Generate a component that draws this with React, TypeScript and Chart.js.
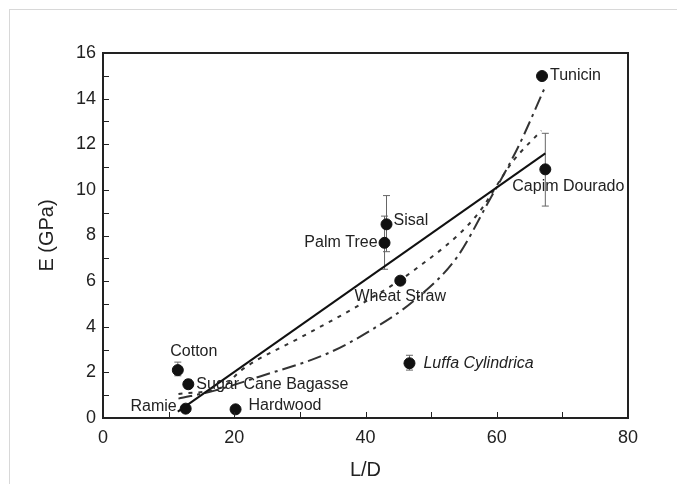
import React, { useEffect, useRef } from "react";
import { Chart, registerables } from "chart.js";

Chart.register(...registerables);

const materials = ["Cotton", "Sugar Cane Bagasse", "Ramie", "Hardwood", "Palm Tree", "Sisal", "Wheat Straw", "Luffa Cylindrica", "Tunicin", "Capim Dourado"];
const ldValues = [11.4, 13.0, 12.6, 20.2, 42.9, 43.2, 45.3, 46.7, 66.9, 67.4];
const eValues = [2.1, 1.48, 0.41, 0.38, 7.68, 8.49, 6.02, 2.4, 14.99, 10.9];
const errLow = [1.85, 1.3, null, null, 6.52, 7.29, null, 2.1, null, 9.29];
const errHigh = [2.45, 1.68, null, null, 8.85, 9.75, null, 2.75, null, 12.48];

const linearX = [11.4, 67.4];
const linearY = [0.28, 11.6];

const dottedX = [11.5, 18.3, 21.1, 30.3, 39.6, 47.5, 56.7, 62.6, 66.8];
const dottedY = [1.05, 1.37, 2.1, 3.56, 5.04, 6.5, 8.8, 11.3, 12.6];

const dashDotX = [11.5, 17, 23.8, 34.3, 40.9, 47.5, 54, 58.6, 63.3, 67.2];
const dashDotY = [0.85, 1.2, 1.81, 2.84, 3.86, 5.17, 7.07, 9.4, 11.9, 14.4];

const xTicks = [0, 20, 40, 60, 80];
const yTicks = [0, 2, 4, 6, 8, 10, 12, 14, 16];

// label placement offsets (style only)
const labelOffsets: Record<string, { dx: number; dy: number; align: CanvasTextAlign; italic?: boolean }> = {
  "Cotton": { dx: 16, dy: -19, align: "center" },
  "Sugar Cane Bagasse": { dx: 8, dy: 0, align: "left" },
  "Ramie": { dx: -9, dy: -2, align: "right" },
  "Hardwood": { dx: 13, dy: -4, align: "left" },
  "Palm Tree": { dx: -7, dy: 0, align: "right" },
  "Sisal": { dx: 7, dy: -4, align: "left" },
  "Wheat Straw": { dx: 0, dy: 16, align: "center" },
  "Luffa Cylindrica": { dx: 14, dy: 0, align: "left", italic: true },
  "Tunicin": { dx: 8, dy: 0, align: "left" },
  "Capim Dourado": { dx: -33, dy: 17, align: "left" },
};

const FONT = "'Liberation Sans', Arial, Helvetica, sans-serif";

const pairs = (xs: number[], ys: number[]) => xs.map((x, i) => ({ x, y: ys[i] }));

const framePlugin = {
  id: "frameAndLabels",
  afterDatasetsDraw(chart: any) {
    const { ctx, chartArea, scales } = chart;
    const xs = scales.x;
    const ys = scales.y;
    ctx.save();
    // labels
    ctx.fillStyle = "#222";
    ctx.textBaseline = "middle";
    materials.forEach((m, i) => {
      const o = labelOffsets[m];
      const px = xs.getPixelForValue(ldValues[i]);
      const py = ys.getPixelForValue(eValues[i]);
      ctx.font = `${o.italic ? "italic " : ""}16px ${FONT}`;
      ctx.textAlign = o.align;
      ctx.fillText(m, px + o.dx, py + o.dy);
    });
    // frame
    ctx.strokeStyle = "#222";
    ctx.lineWidth = 2;
    ctx.strokeRect(chartArea.left, chartArea.top, chartArea.right - chartArea.left, chartArea.bottom - chartArea.top);
    // inward ticks
    ctx.lineWidth = 1;
    for (let v = 10; v < 80; v += 10) {
      const px = Math.round(xs.getPixelForValue(v)) + 0.5;
      ctx.beginPath();
      ctx.moveTo(px, chartArea.bottom);
      ctx.lineTo(px, chartArea.bottom - 6);
      ctx.stroke();
    }
    for (let v = 1; v < 16; v += 1) {
      const py = Math.round(ys.getPixelForValue(v)) + 0.5;
      ctx.beginPath();
      ctx.moveTo(chartArea.left, py);
      ctx.lineTo(chartArea.left + 6, py);
      ctx.stroke();
    }
    ctx.restore();
  },
};

export default function App() {
  const ref = useRef<HTMLCanvasElement>(null);
  useEffect(() => {
    if (!ref.current) return;
    const errorSets: any[] = [];
    materials.forEach((m, i) => {
      if (errLow[i] == null) return;
      errorSets.push({
        type: "scatter",
        label: m + " error",
        data: [{ x: ldValues[i], y: errLow[i] }, { x: ldValues[i], y: errHigh[i] }],
        showLine: true,
        borderColor: "#666",
        borderWidth: 1,
        pointStyle: "line",
        pointRadius: 3.5,
        pointBorderColor: "#666",
        pointBorderWidth: 1,
        order: 5,
      });
    });
    const chart = new Chart(ref.current, {
      type: "scatter",
      data: {
        datasets: [
          {
            label: "linear",
            data: pairs(linearX, linearY),
            showLine: true,
            borderColor: "#111",
            borderWidth: 2,
            pointRadius: 0,
            order: 3,
          },
          {
            label: "dotted",
            data: pairs(dottedX, dottedY),
            showLine: true,
            borderColor: "#333",
            borderWidth: 2,
            borderDash: [4, 6],
            pointRadius: 0,
            cubicInterpolationMode: "monotone",
            order: 3,
          },
          {
            label: "dashdot",
            data: pairs(dashDotX, dashDotY),
            showLine: true,
            borderColor: "#333",
            borderWidth: 2,
            borderDash: [14, 5, 3, 5],
            pointRadius: 0,
            cubicInterpolationMode: "monotone",
            order: 3,
          },
          ...errorSets,
          {
            label: "data",
            data: pairs(ldValues, eValues),
            pointRadius: 5.5,
            pointBackgroundColor: "#111",
            pointBorderColor: "#111",
            order: 1,
          },
        ],
      },
      options: {
        responsive: false,
        animation: false,
        layout: { padding: { left: 0, right: 49, top: 53, bottom: 0 } },
        plugins: { legend: { display: false }, tooltip: { enabled: false } },
        scales: {
          x: {
            type: "linear",
            min: 0,
            max: 80,
            afterBuildTicks: (s: any) => { s.ticks = xTicks.map((v) => ({ value: v })); },
            afterFit: (s: any) => { s.height = 66; },
            grid: { display: false, drawTicks: false },
            border: { display: false },
            ticks: { color: "#222", font: { family: FONT, size: 18 }, padding: 9 },
            title: { display: true, text: "L/D", color: "#222", font: { family: FONT, size: 20 }, padding: { top: 0, bottom: 2 } },
          },
          y: {
            type: "linear",
            min: 0,
            max: 16,
            afterBuildTicks: (s: any) => { s.ticks = yTicks.map((v) => ({ value: v })); },
            afterFit: (s: any) => { s.width = 103; },
            grid: { display: false, drawTicks: false },
            border: { display: false },
            ticks: { color: "#222", font: { family: FONT, size: 18 }, padding: 7 },
            title: { display: true, text: "E (GPa)", color: "#222", font: { family: FONT, size: 20 }, padding: { top: 35, bottom: 0 } },
          },
        },
      },
      plugins: [framePlugin],
    } as any);
    return () => chart.destroy();
  }, []);
  return (
    <div style={{ position: "absolute", left: 0, top: 0, width: 677, height: 484, background: "#fff", overflow: "hidden" }}>
      <div style={{ position: "absolute", left: 9, top: 9, width: 700, height: 500, borderLeft: "1px solid #d8d8d8", borderTop: "1px solid #d8d8d8" }} />
      <canvas ref={ref} width={677} height={484} style={{ position: "absolute", left: 0, top: 0 }} />
    </div>
  );
}
